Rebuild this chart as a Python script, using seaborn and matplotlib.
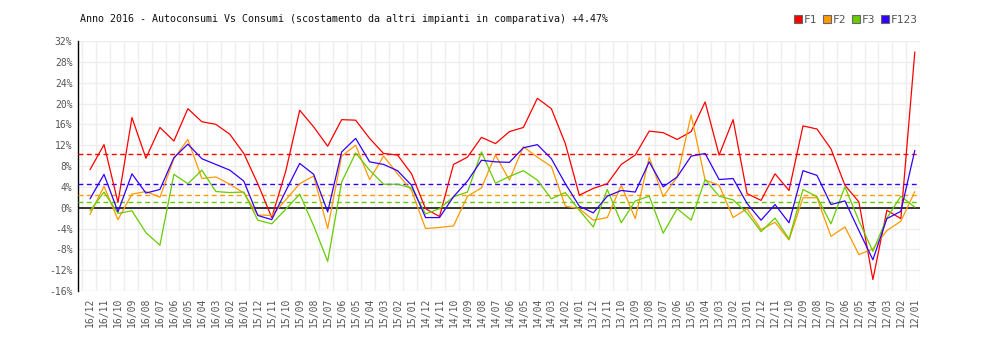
import numpy as np
import pandas as pd
import matplotlib
matplotlib.use("Agg")
import matplotlib.pyplot as plt
from matplotlib.lines import Line2D
import seaborn as sns

# Months, newest first
months = [
    "16/12", "16/11", "16/10", "16/09", "16/08", "16/07", "16/06", "16/05", "16/04", "16/03", "16/02", "16/01",
    "15/12", "15/11", "15/10", "15/09", "15/08", "15/07", "15/06", "15/05", "15/04", "15/03", "15/02", "15/01",
    "14/12", "14/11", "14/10", "14/09", "14/08", "14/07", "14/06", "14/05", "14/04", "14/03", "14/02", "14/01",
    "13/12", "13/11", "13/10", "13/09", "13/08", "13/07", "13/06", "13/05", "13/04", "13/03", "13/02", "13/01",
    "12/12", "12/11", "12/10", "12/09", "12/08", "12/07", "12/06", "12/05", "12/04", "12/03", "12/02", "12/01",
]

# Percentage deviation per band
f1 = [7.3, 12.1, 1.0, 17.3, 9.5, 15.4, 12.8, 19.0, 16.5, 16.0, 14.1, 10.4,
      4.6, -1.9, 7.0, 18.7, 15.5, 11.8, 16.9, 16.8, 13.3, 10.4, 10.1, 6.5,
      -0.2, -1.7, 8.3, 9.7, 13.5, 12.3, 14.6, 15.4, 21.0, 19.0, 12.3, 2.4,
      3.7, 4.6, 8.3, 10.1, 14.7, 14.4, 13.1, 14.6, 20.3, 10.1, 16.9, 2.7,
      1.4, 6.5, 3.3, 15.7, 15.1, 11.3, 4.3, 1.1, -13.8, -0.5, -2.1, 29.9]
f2 = [-1.3, 4.1, -2.3, 2.6, 3.1, 2.0, 9.4, 13.1, 5.6, 5.9, 4.5, 2.8,
      -1.4, -1.5, 1.5, 4.6, 6.1, -4.0, 9.9, 12.0, 5.4, 9.9, 6.5, 3.3,
      -4.0, -3.8, -3.5, 2.2, 3.8, 10.1, 5.3, 11.7, 9.7, 7.9, 0.3, -0.2,
      -2.4, -1.9, 4.3, -2.1, 9.7, 2.1, 5.9, 17.8, 5.3, 4.3, -1.9, -0.2,
      -4.2, -2.8, -6.2, 1.9, 1.9, -5.5, -3.7, -9.0, -7.9, -4.4, -2.6, 3.1]
f3 = [-0.6, 3.0, -1.1, -0.6, -4.8, -7.2, 6.4, 4.6, 7.2, 3.1, 2.9, 3.0,
      -2.4, -3.1, -0.3, 2.6, -3.5, -10.3, 4.9, 10.5, 7.2, 4.5, 4.5, 3.8,
      -1.2, -0.2, 2.1, 3.0, 10.7, 4.7, 6.0, 7.1, 5.3, 1.7, 2.9, -0.5,
      -3.7, 3.5, -2.9, 1.3, 2.2, -4.9, -0.2, -2.4, 5.4, 2.2, 1.5, -1.0,
      -4.6, -2.0, -6.0, 3.5, 2.1, -3.1, 4.0, -2.5, -8.4, -2.0, 2.2, 0.1]
f123 = [1.7, 6.4, -0.8, 6.5, 2.8, 3.5, 9.6, 12.2, 9.4, 8.3, 7.2, 5.1,
        -1.5, -2.3, 3.2, 8.5, 6.4, -0.8, 10.7, 13.3, 8.8, 8.3, 7.1, 4.3,
        -1.9, -1.9, 2.1, 5.1, 9.1, 8.8, 8.7, 11.5, 12.1, 9.4, 4.6, 0.3,
        -1.0, 2.2, 3.3, 3.0, 8.8, 4.0, 5.9, 9.9, 10.4, 5.4, 5.6, 0.8,
        -2.4, 0.6, -2.9, 7.1, 6.2, 0.6, 1.3, -4.4, -10.0, -2.1, -0.7, 11.0]

series_names = ["F1", "F2", "F3", "F123"]
series_values = [f1, f2, f3, f123]
colors = ["#ff0000", "#ff9900", "#66cc00", "#3300ff"]

y_ticks = list(range(-16, 33, 4))
title = "Anno 2016 - Autoconsumi Vs Consumi (scostamento da altri impianti in comparativa) +4.47%"

df = pd.concat(
    [pd.DataFrame({"pos": np.arange(len(months)), "val": v, "serie": n})
     for n, v in zip(series_names, series_values)],
    ignore_index=True,
)

sns.set_style("white")
mono = ["DejaVu Sans Mono"]
plt.rcParams["font.family"] = mono

fig = plt.figure(figsize=(10, 3.4), dpi=100)
ax = fig.add_axes([0.078, 0.1441, 0.842, 0.7353])

# light grid
for yt in y_ticks:
    ax.axhline(yt, color="#eeeeee", lw=1, zorder=0)
for i in range(-1, len(months)):
    ax.axvline(i + 0.4, color="#eeeeee", lw=1, zorder=0)

ax.axhline(0, color="black", lw=1.1, zorder=2)

# average of each band as dashed reference
for vals, c in zip(series_values, colors):
    ax.axhline(np.mean(vals), color=c, lw=1, ls=(0, (3.5, 2.5)), zorder=3)

sns.lineplot(data=df, x="pos", y="val", hue="serie", hue_order=series_names,
             palette=colors, sort=False, estimator=None, legend=False,
             lw=0.9, ax=ax, zorder=4)

ax.set_xlim(-0.86, 59.37)
ax.set_ylim(-16, 32)
ax.set_yticks(y_ticks)
ax.set_yticklabels([f"{t}%" for t in y_ticks])
ax.set_xticks(np.arange(len(months)))
ax.set_xticklabels(months, rotation=90)
ax.tick_params(axis="both", length=0, labelsize=7, colors="#555555")
ax.tick_params(axis="y", pad=4)
ax.tick_params(axis="x", pad=5)
ax.set_xlabel("")
ax.set_ylabel("")
for side in ["top", "right", "bottom"]:
    ax.spines[side].set_visible(False)
ax.spines["left"].set_color("black")
ax.spines["left"].set_linewidth(1)

fig.text(0.08, 1 - 19 / 340, title, fontsize=7.2, color="#111111",
         va="center", ha="left")

handles = [Line2D([], [], marker="s", ls="none", markersize=5.5,
                  markerfacecolor=c, markeredgecolor="#666666",
                  markeredgewidth=0.8) for c in colors]
fig.legend(handles, series_names, loc="center right",
           bbox_to_anchor=(0.918, 1 - 20 / 340), ncol=4, frameon=False,
           fontsize=8, handlelength=0.6, handletextpad=0.2,
           columnspacing=0.6, labelcolor="#555555", borderaxespad=0,
           borderpad=0)

fig.savefig("out.png", dpi=100)
